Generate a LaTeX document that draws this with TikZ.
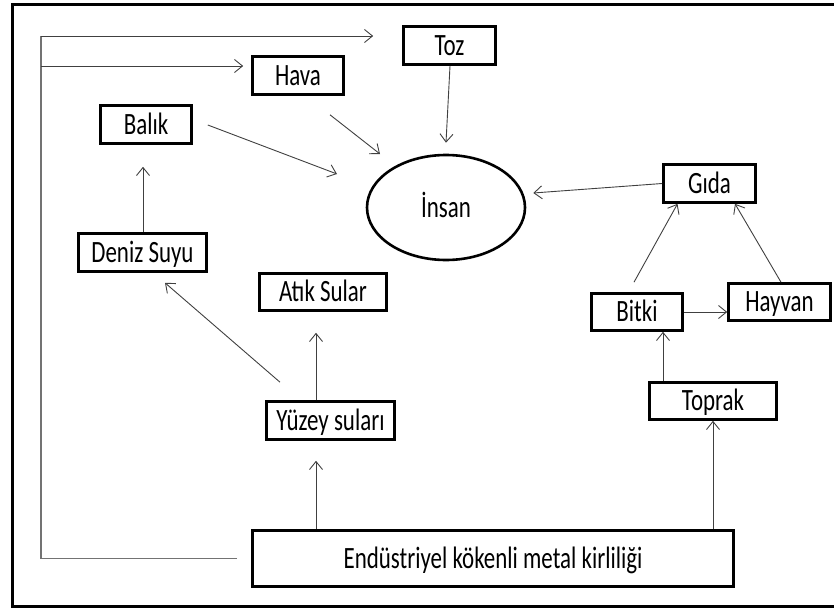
\documentclass[tikz,border=0pt]{standalone}
\usepackage{fontspec}
\setmainfont{Carlito}
\newfontfamily\boxfont{Carlito}[FakeStretch=0.74]
\usetikzlibrary{arrows.meta,shapes.geometric,calc}
\begin{document}
\begin{tikzpicture}[x=1pt,y=-1pt,
  lbl/.style={font=\boxfont\fontsize{31}{36}\selectfont,text height=19.6pt,text depth=0pt,inner sep=0pt},
  box/.style={lbl,draw=black,line width=2.6pt,rectangle,minimum height=38},
  arr/.style={draw=black!75,line width=0.9pt,-{Straight Barb[length=8pt,width=13pt]}},
  fbline/.style={draw=black!55,line width=1.3pt}
]
\useasboundingbox (0,0) rectangle (834,607);
\clip (0,0) rectangle (834,607);
\draw[line width=3pt] (12,5) rectangle (850,606);

\node[box,minimum width=92] (toz) at (449.5,45.5) {Toz};
\node[box,minimum width=91] (hava) at (298,75.5) {Hava};
\node[box,minimum width=91] (balik) at (146,124.5) {Balık};
\node[box,minimum width=128] (deniz) at (142.5,252.5) {Deniz Suyu};
\node[box,minimum width=127,minimum height=37] (atik) at (323,292) {Atık Sular};
\node[box,minimum width=128] (yuzey) at (330.5,420.5) {Yüzey suları};
\node[box,minimum width=481,minimum height=56] (endu) at (493,558.5) {Endüstriyel kökenli metal kirliliği};
\node[box,minimum width=127,minimum height=37] (toprak) at (713,401) {Toprak};
\node[box,minimum width=91,minimum height=37] (bitki) at (637,312) {Bitki};
\node[box,minimum width=102,minimum height=37] (hayvan) at (779.5,302) {Hayvan};
\node[box,minimum width=92] (gida) at (709.5,183.5) {Gıda};
\node[lbl,ellipse,draw=black,line width=2.6pt,minimum width=158,minimum height=105] (insan) at (446,207.5) {İnsan};

\coordinate (fbtop) at (41,36);
\draw[fbline] ($(endu.west)+(-14,0)$) -| (fbtop);
\draw[arr] (fbtop) -- ($(toz.west)+(-29,-9.5)$);
\draw[arr] ($(fbtop)+(0,30)$) -- ($(hava.west)+(-8,-9.5)$);

\draw[arr] ($(hava.south)+(32,19)$) -- ($(insan.center)+(-66,-53.5)$);
\draw[arr] ($(balik.east)+(15,0.5)$) -- ($(insan.center)+(-109,-33.5)$);
\draw[arr] ($(toz.south)+(0.5,0)$) -- ($(insan.north)+(0,-11)$);
\draw[arr] (gida.west) -- ($(insan.east)+(7,-14.5)$);
\draw[arr] ($(bitki.north)+(-3,-10)$) -- ($(gida.south)+(-32,0)$);
\draw[arr] ($(hayvan.north)+(1.5,0)$) -- ($(gida.south)+(25.5,0)$);
\draw[arr] (bitki.east) -- ($(hayvan.west)+(0,10)$);
\draw[arr] ($(toprak.north)+(-50,0)$) -- ($(bitki.south)+(26,0)$);
\draw[arr] (endu.north -| toprak.south) -- (toprak.south);
\draw[arr] ($(endu.north)+(-177,0)$) -- ($(yuzey.south)+(-14.5,20)$);
\draw[arr] ($(yuzey.north)+(-14.5,0)$) -- ($(atik.south)+(-7,21)$);
\draw[arr] ($(yuzey.north)+(-50.5,-18)$) -- ($(deniz.south)+(22.5,10)$);
\draw[arr] ($(deniz.north)+(0.5,0)$) -- ($(balik.south)+(-3,22)$);
\end{tikzpicture}
\end{document}
